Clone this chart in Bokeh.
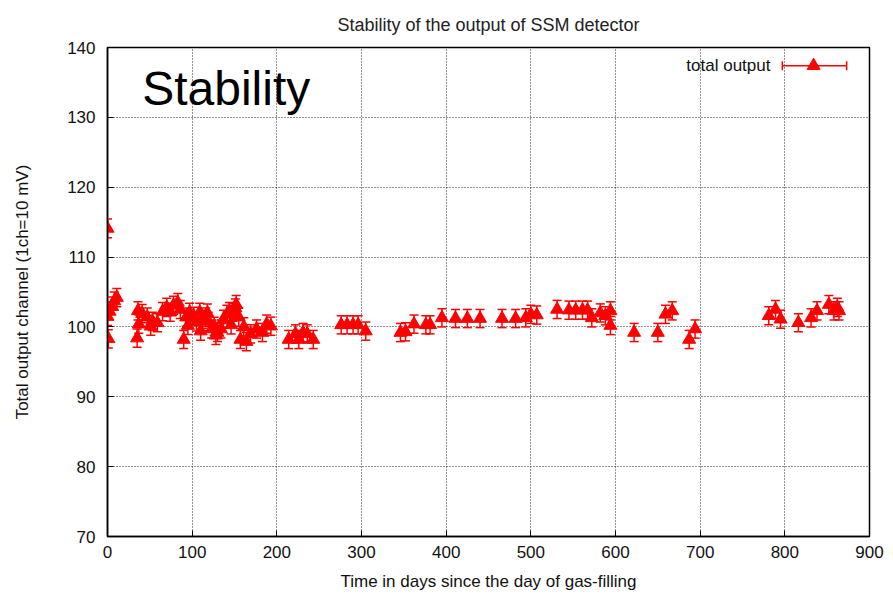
from bokeh.plotting import figure
from bokeh.models import ColumnDataSource, Whisker, TeeHead, Label, Range1d, FixedTicker
from bokeh.embed import file_html
from bokeh.resources import INLINE

# ---- data ----
days = [0, 0, 1, 2, 5, 8, 11,
        35, 36, 37, 41, 47, 51, 53, 59,
        65, 70, 74, 78, 83, 86, 90, 93, 95, 97,
        102, 105, 109, 110, 112, 116, 118, 119, 123, 126, 128, 130, 134, 137,
        141, 144, 146, 148, 151, 152, 155, 157, 161, 164, 169, 176, 183, 188, 193,
        214, 222, 226, 231, 236, 243,
        276, 283, 290, 296, 305,
        346, 352, 362, 376, 381, 395,
        411, 425, 440, 466, 482, 494, 500, 507,
        531, 545, 553, 561, 567, 572, 582, 588, 594, 594,
        622, 650, 659, 667, 687, 694,
        781, 789, 795, 816, 831, 838, 852, 858, 862, 864]
values = [114.1, 101.5, 98.3, 102.3, 103.0, 103.7, 104.2,
          98.4, 102.3, 100.4, 101.9, 101.4, 100.1, 100.8, 100.6,
          102.2, 102.8, 102.1, 103.1, 103.5, 102.5, 98.2, 101.4, 100.2, 102.1,
          101.5, 100.7, 102.1, 99.4, 101.1, 101.4, 102.0, 100.8, 99.7, 100.1, 98.8, 99.2, 99.7, 101.1,
          101.8, 102.2, 100.3, 102.1, 102.7, 103.2, 101.4, 98.2, 100.0, 97.9, 99.0, 99.7, 99.2, 100.4, 100.1,
          98.2, 99.0, 98.2, 99.2, 99.0, 98.2,
          100.3, 100.3, 100.3, 100.3, 99.4,
          99.2, 99.3, 100.4, 100.3, 100.3, 101.3,
          101.2, 101.2, 101.2, 101.2, 101.2, 101.3, 101.8, 101.7,
          102.5, 102.4, 102.4, 102.4, 102.4, 101.3, 102.0, 101.6, 102.3, 100.2,
          99.2, 99.2, 101.8, 102.3, 98.2, 99.7,
          101.6, 102.5, 101.1, 100.6, 101.3, 102.3, 103.2, 102.3, 102.8, 102.3]
errors = [1.35, 1.3, 1.3, 1.3, 1.3, 1.3, 1.3,
          1.3, 1.3, 1.3, 1.3, 1.3, 1.3, 1.3, 1.3,
          1.3, 1.3, 1.3, 1.3, 1.3, 1.3, 1.3, 1.3, 1.3, 1.3,
          1.3, 1.3, 1.3, 1.3, 1.3, 1.3, 1.3, 1.3, 1.3, 1.3, 1.3, 1.3, 1.3, 1.3,
          1.3, 1.3, 1.3, 1.3, 1.3, 1.3, 1.3, 1.3, 1.3, 1.3, 1.3, 1.3, 1.3, 1.3, 1.3,
          1.3, 1.3, 1.3, 1.3, 1.3, 1.3,
          1.3, 1.3, 1.3, 1.3, 1.3,
          1.3, 1.3, 1.3, 1.3, 1.3, 1.3,
          1.3, 1.3, 1.3, 1.3, 1.3, 1.3, 1.3, 1.3,
          1.3, 1.3, 1.3, 1.3, 1.3, 1.3, 1.3, 1.3, 1.3, 1.3,
          1.3, 1.3, 1.3, 1.3, 1.3, 1.3,
          1.3, 1.3, 1.3, 1.3, 1.3, 1.3, 1.3, 1.3, 1.3, 1.3]

x_ticks = [0, 100, 200, 300, 400, 500, 600, 700, 800, 900]
y_ticks = [70, 80, 90, 100, 110, 120, 130, 140]

title_text = "Stability of the output of SSM detector"
x_label = "Time in days since the day of gas-filling"
y_label = "Total output channel (1ch=10 mV)"
series_name = "total output"
overlay_text = "Stability"

RED = "#ff0000"
FONT = "Liberation Sans"

src = ColumnDataSource(dict(
    x=days, y=values,
    lo=[v - e for v, e in zip(values, errors)],
    hi=[v + e for v, e in zip(values, errors)],
))

p = figure(width=893, height=598, output_backend="svg", toolbar_location=None,
           x_range=Range1d(0, 900), y_range=Range1d(70, 140),
           min_border_left=107, min_border_right=24, min_border_top=47, min_border_bottom=62)

p.title.text = title_text
p.title.align = "center"
p.title.text_font = FONT
p.title.text_font_size = "18px"
p.title.text_font_style = "normal"
p.title.text_color = "#222222"
p.title.standoff = 25

p.background_fill_color = "white"
p.border_fill_color = "white"
p.outline_line_color = "black"
p.outline_line_width = 1.5
p.outline_line_alpha = 1.0

for ax in (p.xaxis[0], p.yaxis[0]):
    ax.axis_line_color = "black"
    ax.axis_line_width = 1.5
    ax.major_tick_in = 6
    ax.major_tick_out = 0
    ax.minor_tick_line_color = None
    ax.major_tick_line_color = "black"
    ax.major_label_text_font = FONT
    ax.major_label_text_font_size = "17px"
    ax.major_label_text_color = "#111111"
    ax.axis_label_text_font = FONT
    ax.axis_label_text_font_size = "17px"
    ax.axis_label_text_font_style = "normal"
    ax.axis_label_text_color = "#111111"

p.xaxis[0].ticker = FixedTicker(ticks=x_ticks)
p.yaxis[0].ticker = FixedTicker(ticks=y_ticks)
p.xaxis[0].axis_label = x_label
p.yaxis[0].axis_label = y_label
p.xaxis[0].major_label_standoff = 9
p.yaxis[0].major_label_standoff = 12
p.xaxis[0].axis_label_standoff = 11
p.yaxis[0].axis_label_standoff = 32

p.xgrid.ticker = FixedTicker(ticks=x_ticks)
p.ygrid.ticker = FixedTicker(ticks=y_ticks)
for g in (p.xgrid[0], p.ygrid[0]):
    g.grid_line_color = "black"
    g.grid_line_dash = "1 2"
    g.grid_line_width = 1
    g.grid_line_alpha = 0.85

# error bars
w = Whisker(source=src, base="x", lower="lo", upper="hi", dimension="height",
            line_color=RED, line_width=1.5,
            upper_head=TeeHead(size=9, line_color=RED, line_width=1.5),
            lower_head=TeeHead(size=9, line_color=RED, line_width=1.5))
p.add_layout(w)
p.scatter("x", "y", source=src, marker="triangle", size=13,
          fill_color=RED, line_color=RED)

# big overlay text
p.add_layout(Label(x=41, y=134.2, text=overlay_text, text_font=FONT,
                   text_font_size="48px", text_color="black",
                   text_baseline="alphabetic", text_align="left"))

# legend (drawn manually: text + horizontal error bar + marker)
LEG_Y = 137.4
LEG_TEXT_X = 783
LEG_BAR = (797, 873)
LEG_MARK_X = 834
p.add_layout(Label(x=LEG_TEXT_X, y=LEG_Y, text=series_name, text_font=FONT,
                   text_font_size="17px", text_color="#111111",
                   text_align="right", text_baseline="middle"))
leg_src = ColumnDataSource(dict(base=[LEG_Y], lo=[LEG_BAR[0]], hi=[LEG_BAR[1]],
                                mx=[LEG_MARK_X], my=[LEG_Y]))
p.add_layout(Whisker(source=leg_src, base="base", lower="lo", upper="hi",
                     dimension="width", line_color=RED, line_width=1.5,
                     upper_head=TeeHead(size=9, line_color=RED, line_width=1.5),
                     lower_head=TeeHead(size=9, line_color=RED, line_width=1.5)))
p.scatter("mx", "my", source=leg_src, marker="triangle", size=13,
          fill_color=RED, line_color=RED)

open("out.html", "w").write(file_html(p, INLINE))
